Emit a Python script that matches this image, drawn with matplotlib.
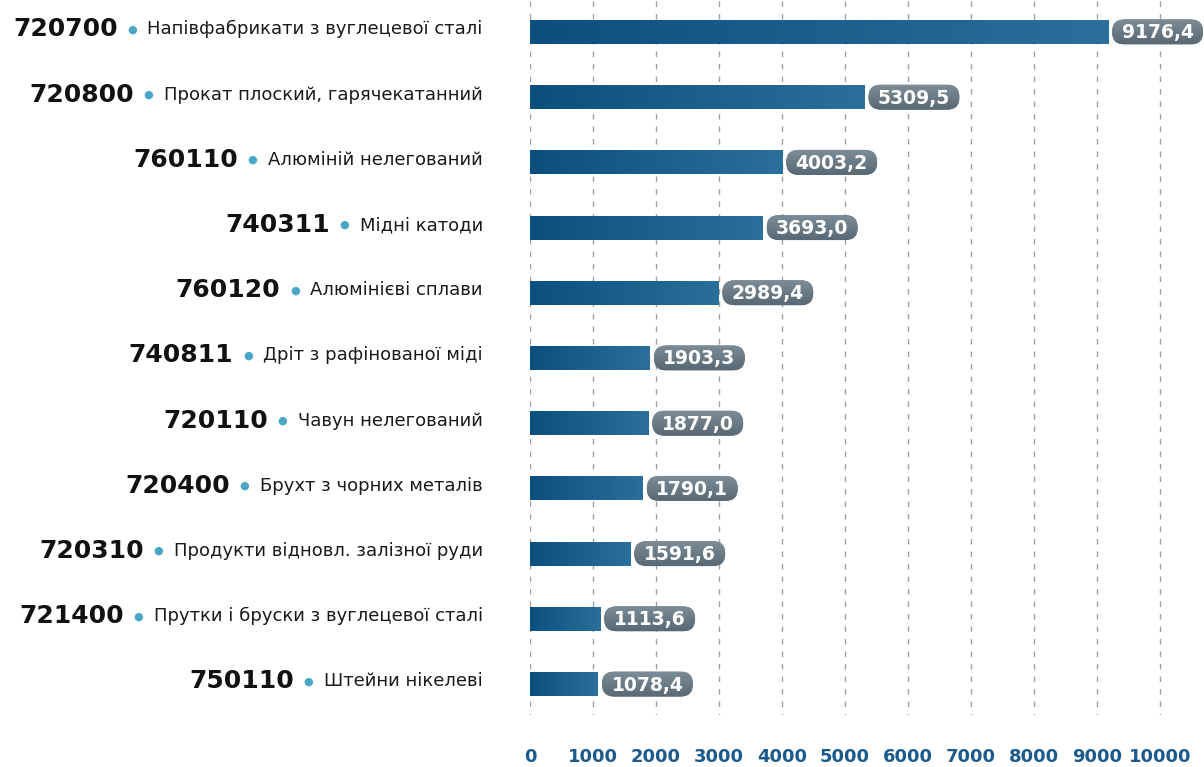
import numpy as np
import matplotlib
matplotlib.use("Agg")
import matplotlib.pyplot as plt
from matplotlib.colors import LinearSegmentedColormap
from matplotlib.patches import FancyBboxPatch
from matplotlib.transforms import Affine2D, blended_transform_factory

plt.rcParams['font.family'] = ['DejaVu Sans']

codes = ["720700", "720800", "760110", "740311", "760120", "740811",
         "720110", "720400", "720310", "721400", "750110"]
names = ["Напівфабрикати з вуглецевої сталі", "Прокат плоский, гарячекатанний",
         "Алюміній нелегований", "Мідні катоди", "Алюмінієві сплави",
         "Дріт з рафінованої міді", "Чавун нелегований", "Брухт з чорних металів",
         "Продукти відновл. залізної руди", "Прутки і бруски з вуглецевої сталі",
         "Штейни нікелеві"]
values = [9176.4, 5309.5, 4003.2, 3693.0, 2989.4, 1903.3, 1877.0, 1790.1,
          1591.6, 1113.6, 1078.4]
ticks = [0, 1000, 2000, 3000, 4000, 5000, 6000, 7000, 8000, 9000, 10000]

W, H, DPI = 1204, 767, 100
fig = plt.figure(figsize=(W / DPI, H / DPI), dpi=DPI)
ax = fig.add_axes([530 / W, 52 / H, 674 / W, 715 / H])

px_per_unit = 0.063
ax.set_xlim(0, 674 / px_per_unit)
ax.set_ylim(10.475, -0.49)
ax.axis('off')

# dashed grid
for t in ticks:
    ax.plot([t, t], [-0.47, 10.475], color='#a0a0a0', lw=1, ls=(0, (4, 5)), zorder=0)

bar_cmap = LinearSegmentedColormap.from_list('bar', ['#0a4f7e', '#2b6f9c'])
pill_cmap = LinearSegmentedColormap.from_list('pill', ['#586874', '#7d8d98'])
grad = np.linspace(0, 1, 256).reshape(1, -1)
bar_h = 0.37

y = np.arange(len(values))
bars = ax.barh(y, values, height=bar_h, color='#1a5f8e', zorder=2)
for b, v in zip(bars, values):
    im = ax.imshow(grad, cmap=bar_cmap, aspect='auto', zorder=3,
                   extent=[0, v, b.get_y() + bar_h, b.get_y()])
    im.set_clip_path(b)

# value pills (drawn in pixel units next to the bar end)
pw, ph, gap = 91, 25, 4
for i, v in enumerate(values):
    px, py = ax.transData.transform((v, i))
    tr = Affine2D().translate(px, py)
    pill = FancyBboxPatch((gap, -ph / 2), pw, ph,
                          boxstyle=f'round,pad=0,rounding_size={ph / 2}',
                          fc='#667682', ec='none', transform=tr, zorder=4)
    ax.add_patch(pill)
    pim = ax.imshow(grad.T, cmap=pill_cmap, aspect='auto', origin='lower',
                    extent=[gap, gap + pw, -ph / 2, ph / 2], zorder=4.5)
    pim.set_transform(tr)
    pim.set_clip_path(pill)
    ax.text(gap + pw / 2, -1, f"{v:.1f}".replace('.', ','), transform=tr,
            ha='center', va='center', fontsize=13.5, fontweight='bold',
            color='white', zorder=5)

# left labels: name, dot, code
for i, (c, n) in enumerate(zip(codes, names)):
    t_name = ax.annotate(n, xy=(0, i - 0.04), xytext=(-34, 0),
                         textcoords='offset points', ha='right', va='center',
                         fontsize=13, color='#1a1a1a', annotation_clip=False)
    dot = ax.annotate("●", xy=(0, 0.5), xycoords=t_name, xytext=(-7.5, 0),
                      textcoords='offset points', ha='right', va='center',
                      fontsize=8, color='#4aa6c6')
    ax.annotate(c, xy=(0, 0.5), xycoords=dot, xytext=(-7, 0),
                textcoords='offset points', ha='right', va='center',
                fontsize=18, fontweight='bold', color='#111111')

# bottom axis labels
trans = blended_transform_factory(ax.transData, fig.transFigure)
for t in ticks:
    fig.text(t, 1 - 757 / H, str(t), transform=trans, ha='center', va='center',
             fontsize=13, fontweight='bold', color='#1b5a8a')

fig.savefig("out.png", dpi=DPI)
